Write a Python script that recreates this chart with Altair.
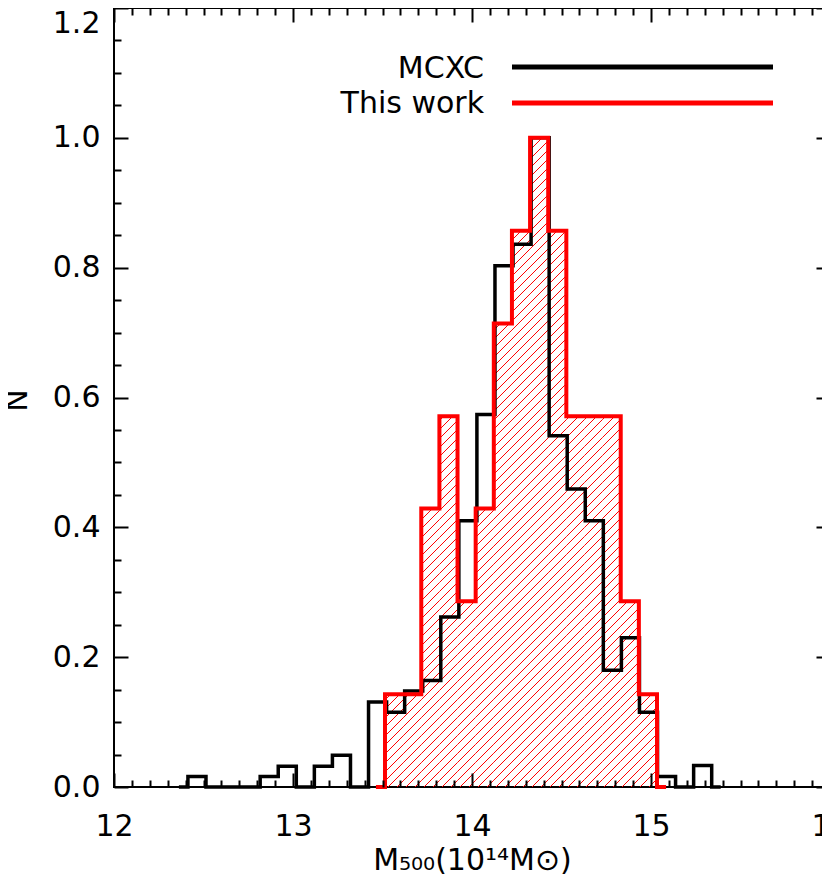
import altair as alt
import pandas as pd

# ---------------- data ----------------
# MCXC histogram (normalised counts), regular bins
mcxc_start = 12.413
mcxc_width = 0.1009
mcxc_values = [0.016, 0.0, 0.0, 0.0, 0.016, 0.032, 0.0, 0.032, 0.049, 0.0,
               0.131, 0.115, 0.148, 0.164, 0.262, 0.410, 0.574, 0.803, 0.836, 1.0,
               0.541, 0.459, 0.410, 0.180, 0.230, 0.115, 0.016, 0.0, 0.033]

# This work histogram (normalised counts), regular bins
work_start = 13.514
work_width = 0.1013
work_values = [0.143, 0.143, 0.429, 0.571, 0.286, 0.429, 0.714, 0.857, 1.0,
               0.857, 0.571, 0.571, 0.571, 0.286, 0.143]

x_major = [12, 13, 14, 15, 16]
x_minor = [12.1, 12.2, 12.3, 12.4, 12.5, 12.6, 12.7, 12.8, 12.9,
           13.1, 13.2, 13.3, 13.4, 13.5, 13.6, 13.7, 13.8, 13.9,
           14.1, 14.2, 14.3, 14.4, 14.5, 14.6, 14.7, 14.8, 14.9,
           15.1, 15.2, 15.3, 15.4, 15.5, 15.6, 15.7, 15.8, 15.9]
y_major = [0.0, 0.2, 0.4, 0.6, 0.8, 1.0, 1.2]
y_minor = [0.05, 0.1, 0.15, 0.25, 0.3, 0.35, 0.45, 0.5, 0.55, 0.65, 0.7, 0.75,
           0.85, 0.9, 0.95, 1.05, 1.1, 1.15]

legend_labels = ["MCXC", "This work"]
legend_colors = ["#000000", "#ff0000"]

x_title = "M\u2085\u2080\u2080(10\u00b9\u2074M\u2299)"
y_title = "N"

# ---------------- layout ----------------
W, H = 716, 779
XMIN, XMAX = 12, 16
YMIN, YMAX = 0, 1.2
FONT = "DejaVu Sans"
RED = "#ff0000"


def outline(start, width, values):
    """Vertices of an IDL psym=10 style histogram outline."""
    xs, ys = [start - width / 2, start], [0.0, 0.0]
    for i, v in enumerate(values):
        xs += [start + i * width, start + (i + 1) * width]
        ys += [v, v]
    end = start + len(values) * width
    xs += [end, end + width / 2]
    ys += [0.0, 0.0]
    return pd.DataFrame({"x": xs, "y": ys, "i": range(len(xs))})


def hatch(start, width, values, spacing=9.0):
    """45-degree hatch segments clipped to each bin (data units)."""
    kx = W / (XMAX - XMIN)
    ky = H / (YMAX - YMIN)
    rows = []
    for i, v in enumerate(values):
        u0 = (start + i * width - XMIN) * kx
        u1 = (start + (i + 1) * width - XMIN) * kx
        vb = H
        vt = (YMAX - v) * ky
        k = int((u0 + vt) // spacing)
        while k * spacing <= u1 + vb:
            c = k * spacing
            a = max(u0, c - vb)
            b = min(u1, c - vt)
            if b > a:
                rows.append({
                    "x": XMIN + a / kx, "y": YMAX - (c - a) / ky,
                    "x2": XMIN + b / kx, "y2": YMAX - (c - b) / ky,
                })
            k += 1
    return pd.DataFrame(rows)


black_df = outline(mcxc_start, mcxc_width, mcxc_values)
red_df = outline(work_start, work_width, work_values)
hatch_df = hatch(work_start, work_width, work_values)

xscale = alt.Scale(domain=[XMIN, XMAX], nice=False, zero=False)
yscale = alt.Scale(domain=[YMIN, YMAX], nice=False, zero=False)


def tick_axis(orient, values, size):
    return alt.Axis(orient=orient, values=values, labels=False, domain=False,
                    grid=False, ticks=True, tickSize=size, tickWidth=2,
                    tickColor="black", offset=-size, title=None, zindex=1)


x_label_axis = alt.Axis(
    orient="bottom", values=x_major, format="d", ticks=False, tickSize=0,
    domain=False, grid=False, labelPadding=24, labelFlush=False,
    labelOverlap=False, labelFont=FONT, labelFontSize=30, labelColor="black",
    title=x_title, titleX=358, titleY=82, titleBaseline="alphabetic",
    titleAlign="center", titleAngle=0, titleFont=FONT, titleFontSize=30,
    titleFontWeight="normal", titleColor="black")

y_label_axis = alt.Axis(
    orient="left", values=y_major[:-1], format=".1f", ticks=False, tickSize=0,
    domain=False, grid=False, labelPadding=14, labelOverlap=False,
    labelFont=FONT, labelFontSize=30, labelColor="black",
    title=y_title, titleX=-97, titleY=392, titleAngle=270,
    titleBaseline="middle", titleAlign="center", titleFont=FONT,
    titleFontSize=30, titleFontWeight="normal", titleColor="black")

# the top label sits just inside the page edge so it stays fully visible
y_top_label_axis = alt.Axis(
    orient="left", values=y_major[-1:], format=".1f", ticks=False, tickSize=0,
    domain=False, grid=False, labelPadding=14, labelOverlap=False,
    labelBaseline="top", labelFont=FONT, labelFontSize=30, labelColor="black",
    title=None)

hatch_layer = alt.Chart(hatch_df).mark_rule(color=RED, strokeWidth=1).encode(
    x=alt.X("x:Q", scale=xscale, axis=x_label_axis),
    y=alt.Y("y:Q", scale=yscale, axis=y_label_axis),
    x2="x2:Q", y2="y2:Q")

black_layer = alt.Chart(black_df).mark_line(
    color="black", strokeWidth=3.5, strokeJoin="miter").encode(
    x=alt.X("x:Q", scale=xscale, axis=tick_axis("bottom", x_major, 14)),
    y=alt.Y("y:Q", scale=yscale, axis=tick_axis("left", y_major, 14)),
    order="i:Q")

red_layer = alt.Chart(red_df).mark_line(
    color=RED, strokeWidth=4, strokeJoin="miter").encode(
    x=alt.X("x:Q", scale=xscale, axis=tick_axis("bottom", x_minor, 7)),
    y=alt.Y("y:Q", scale=yscale, axis=tick_axis("left", y_minor, 7)),
    order="i:Q")

top_major = alt.Chart(red_df).mark_line(opacity=0).encode(
    x=alt.X("x:Q", scale=xscale, axis=tick_axis("top", x_major, 14)),
    y=alt.Y("y:Q", scale=yscale, axis=tick_axis("right", y_major, 14)),
    order="i:Q")

top_minor = alt.Chart(red_df).mark_line(opacity=0).encode(
    x=alt.X("x:Q", scale=xscale, axis=tick_axis("top", x_minor, 7)),
    y=alt.Y("y:Q", scale=yscale, axis=tick_axis("right", y_minor, 7)),
    order="i:Q")

top_label = alt.Chart(red_df).mark_line(opacity=0).encode(
    x=alt.X("x:Q", scale=xscale, axis=None),
    y=alt.Y("y:Q", scale=yscale, axis=y_top_label_axis),
    order="i:Q")

legend_layers = []
for idx, (lab, col) in enumerate(zip(legend_labels, legend_colors)):
    ldf = pd.DataFrame({"label": [lab]})
    legend_layers.append(
        alt.Chart(ldf).mark_text(align="right", baseline="alphabetic",
                                 font=FONT, fontSize=30, color="black").encode(
            text="label:N", x=alt.value(370), y=alt.value(70 + 35 * idx)))
    legend_layers.append(
        alt.Chart(ldf).mark_rule(color=col, strokeWidth=5).encode(
            x=alt.value(398), x2=alt.value(659), y=alt.value(59 + 36 * idx)))

chart = alt.layer(
    hatch_layer, black_layer, red_layer, top_major, top_minor, top_label,
    *legend_layers
).resolve_axis(x="independent", y="independent").properties(
    width=W, height=H,
    autosize=alt.AutoSizeParams(type="none"),
    padding={"left": 106, "top": 0, "right": -8, "bottom": 89},
).configure_view(stroke="black", strokeWidth=2)

chart.save("out.html", embed_options={"renderer": "svg", "actions": False})
